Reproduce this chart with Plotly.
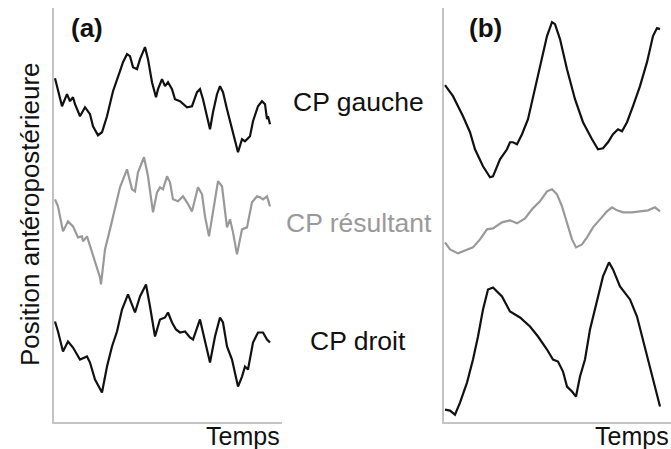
import plotly.graph_objects as go

# Panel (a) - time (arbitrary units) and anteroposterior position (arbitrary units)
t_a_gauche = [1, 8, 13, 16, 19, 21, 26, 31, 36, 39, 44, 48, 53, 59, 66, 69, 73, 76, 79, 83, 86, 91, 94,
              98, 102, 104, 108, 111, 114, 118, 121, 126, 133, 138, 143, 146, 149, 153, 156, 159, 163,
              166, 169, 173, 178, 181, 184, 188, 191, 196, 199, 204, 208, 211, 213, 214, 216]
v_a_gauche = [343, 315, 327, 320, 324, 317, 305, 314, 307, 295, 286, 289, 305, 330, 350, 359, 367, 365, 354,
              352, 362, 374, 362, 339, 324, 332, 342, 335, 339, 332, 322, 320, 314, 315, 329, 332, 322,
              305, 292, 309, 327, 335, 329, 312, 292, 279, 269, 282, 280, 285, 300, 315, 320, 317, 302,
              305, 297]

t_a_result = [1, 4, 9, 14, 19, 24, 28, 29, 33, 36, 41, 46, 47, 51, 56, 61, 66, 73, 78, 81, 84, 90, 94,
              99, 103, 106, 109, 113, 116, 119, 124, 129, 133, 138, 141, 144, 148, 151, 155, 159, 164,
              168, 173, 176, 179, 183, 188, 193, 198, 203, 206, 209, 213, 216]
v_a_result = [222, 215, 190, 200, 195, 184, 185, 180, 185, 175, 159, 144, 137, 172, 192, 212, 234, 252, 232,
              230, 249, 264, 245, 209, 229, 234, 232, 245, 239, 222, 220, 225, 219, 210, 222, 234, 227,
              205, 185, 209, 240, 235, 194, 202, 189, 167, 192, 194, 219, 225, 224, 222, 225, 215]

t_a_droit = [1, 4, 9, 14, 19, 26, 33, 36, 41, 48, 53, 58, 63, 68, 74, 81, 86, 92, 96, 101, 106, 111, 114,
             118, 122, 126, 131, 136, 139, 143, 146, 149, 153, 156, 161, 166, 169, 173, 178, 181, 184,
             188, 191, 194, 199, 204, 209, 213, 216]
v_a_droit = [100, 90, 70, 80, 74, 62, 65, 59, 42, 29, 55, 75, 90, 112, 127, 109, 125, 137, 115, 85, 102,
             104, 109, 99, 92, 89, 90, 84, 82, 94, 102, 89, 72, 59, 85, 104, 99, 75, 62, 49, 35, 45, 55,
             52, 79, 89, 89, 82, 79]

# Panel (b)
t_b_gauche = [1, 9, 19, 26, 31, 39, 46, 49, 56, 63, 66, 69, 73, 78, 84, 91, 98, 103, 108, 111, 116, 123,
              131, 139, 148, 154, 159, 164, 169, 174, 178, 183, 189, 196, 203, 209, 213, 216]
v_b_gauche = [336, 325, 305, 289, 272, 255, 244, 245, 262, 272, 279, 279, 277, 287, 302, 332, 362, 385, 399,
              397, 382, 352, 322, 299, 282, 272, 273, 279, 287, 292, 290, 299, 315, 335, 359, 385, 393, 392]

t_b_result = [1, 6, 14, 21, 29, 36, 43, 49, 58, 66, 73, 81, 88, 96, 103, 108, 113, 118, 123, 128, 132, 138,
              143, 149, 156, 163, 168, 173, 179, 188, 196, 204, 211, 216]
v_b_result = [179, 172, 168, 171, 174, 182, 192, 193, 199, 201, 198, 203, 212, 220, 230, 232, 227, 215, 199,
              182, 174, 177, 184, 194, 202, 210, 214, 211, 209, 209, 210, 211, 214, 210]

t_b_droit = [1, 6, 11, 16, 23, 29, 34, 39, 44, 49, 58, 66, 76, 86, 94, 103, 109, 114, 119, 123, 128, 132,
             136, 141, 146, 153, 159, 165, 169, 176, 181, 186, 193, 199, 206, 213, 216]
v_b_droit = [12, 11, 7, 19, 39, 62, 85, 112, 132, 134, 125, 110, 104, 95, 85, 72, 62, 60, 50, 35, 30, 25,
             45, 62, 92, 122, 145, 159, 152, 135, 129, 122, 105, 82, 55, 29, 15]

FONT = "Liberation Sans, Arial, sans-serif"
BLACK = "#111111"
GREY = "#999999"
AXIS = "#c4c4c4"

fig = go.Figure()
for t, v, col, ax in [
    (t_a_gauche, v_a_gauche, BLACK, "x"),
    (t_a_result, v_a_result, GREY, "x"),
    (t_a_droit, v_a_droit, BLACK, "x"),
    (t_b_gauche, v_b_gauche, BLACK, "x2"),
    (t_b_result, v_b_result, GREY, "x2"),
    (t_b_droit, v_b_droit, BLACK, "x2"),
]:
    fig.add_trace(go.Scatter(x=t, y=v, mode="lines", xaxis=ax, yaxis="y" if ax == "x" else "y2",
                             line=dict(color=col, width=2.2), showlegend=False, hoverinfo="skip"))

axis_style = dict(showline=True, linecolor=AXIS, linewidth=1.5, showgrid=False, zeroline=False,
                  showticklabels=False, ticks="", fixedrange=True)
y_dom = [0.061, 0.982]

fig.update_layout(
    width=671, height=449,
    margin=dict(l=0, r=0, t=0, b=0),
    paper_bgcolor="white", plot_bgcolor="white",
    font=dict(family=FONT, color=BLACK),
    xaxis=dict(domain=[54 / 671, 282 / 671], range=[0, 228], anchor="y", **axis_style),
    yaxis=dict(domain=y_dom, range=[0, 413], anchor="x", **axis_style),
    xaxis2=dict(domain=[444 / 671, 1.0], range=[0, 227], anchor="y2", **axis_style),
    yaxis2=dict(domain=y_dom, range=[0, 413], anchor="x2", **axis_style),
)

annots = [
    dict(text="<b>(a)</b>", x=87, y=28, size=26, color=BLACK),
    dict(text="<b>(b)</b>", x=485, y=28, size=26, color=BLACK),
    dict(text="CP gauche", x=358, y=102, size=26.5, color=BLACK),
    dict(text="CP résultant", x=359, y=223, size=26.5, color=GREY),
    dict(text="CP droit", x=358, y=341, size=26.5, color=BLACK),
    dict(text="Temps", x=243, y=436, size=25, color=BLACK),
    dict(text="Temps", x=632, y=436, size=25, color=BLACK),
]
for a in annots:
    fig.add_annotation(text=a["text"], xref="paper", yref="paper", x=a["x"] / 671, y=1 - a["y"] / 449,
                       xanchor="center", yanchor="middle", showarrow=False,
                       font=dict(family=FONT, size=a["size"], color=a["color"]))

fig.add_annotation(text="Position antéropostérieure", xref="paper", yref="paper", x=30 / 671,
                   y=1 - 214 / 449, xanchor="center", yanchor="middle", textangle=-90, showarrow=False,
                   font=dict(family=FONT, size=26, color=BLACK))

fig.write_html("out.html", config={"displayModeBar": False},
               post_script="document.body.style.margin='0';")
